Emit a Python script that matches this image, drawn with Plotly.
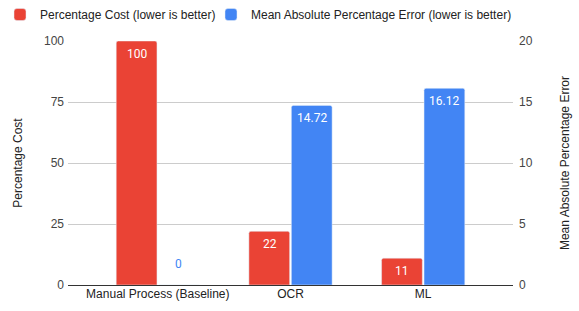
import plotly.graph_objects as go

categories = ["Manual Process (Baseline)", "OCR", "ML"]
cost = [100, 22, 11]
mape = [0, 14.72, 16.12]
cost_name = "Percentage Cost (lower is better)"
mape_name = "Mean Absolute Percentage Error (lower is better)"

RED = "#EA4335"
BLUE = "#4285F4"
FONT = "Liberation Sans, Arial, sans-serif"
LABEL_FONT = "Roboto"
W, H = 579, 311

fig = go.Figure()
fig.add_trace(go.Bar(x=categories, y=cost, name=cost_name, marker_color=RED,
                     offsetgroup="a", yaxis="y", hoverinfo="skip", legend="legend"))
fig.add_trace(go.Bar(x=categories, y=mape, name=mape_name, marker_color=BLUE,
                     offsetgroup="b", yaxis="y2", hoverinfo="skip", legend="legend2"))

def fmt(v):
    return f"{v:g}"

ann = []
for i, v in enumerate(cost):
    ann.append(dict(x=categories[i], y=v, xref="x", yref="y", text=fmt(v),
                    showarrow=False, xshift=-21, yshift=-4 if v > 0 else 12,
                    yanchor="top" if v > 0 else "bottom",
                    font=dict(family=LABEL_FONT, size=12, color="white" if v > 0 else RED)))
for i, v in enumerate(mape):
    ann.append(dict(x=categories[i], y=v, xref="x", yref="y2", text=fmt(v),
                    showarrow=False, xshift=21, yshift=-4 if v > 0 else 12,
                    yanchor="top" if v > 0 else "bottom",
                    font=dict(family=LABEL_FONT, size=12, color="white" if v > 0 else BLUE)))

legend_common = dict(orientation="h", xref="container", yref="container",
                     y=1, xanchor="left", yanchor="top",
                     font=dict(family=FONT, size=12, color="#222"),
                     itemwidth=30, borderwidth=0, bgcolor="rgba(0,0,0,0)")

fig.update_layout(
    width=W, height=H,
    margin=dict(l=68, r=66, t=41, b=26, autoexpand=False),
    paper_bgcolor="white", plot_bgcolor="white",
    font=dict(family=FONT, size=12, color="#444"),
    barmode="group", bargap=0.36, bargroupgap=0.04,
    barcornerradius=2,
    showlegend=True,
    legend=dict(legend_common, x=-5 / W),
    legend2=dict(legend_common, x=211 / W),
    xaxis=dict(range=[-0.677, 2.677], showgrid=False, ticks="",
               tickfont=dict(family=FONT, size=12, color="#222"), fixedrange=True),
    yaxis=dict(range=[0, 100], tickvals=[0, 25, 50, 75, 100], gridcolor="#cccccc",
               zeroline=True, zerolinecolor="#333333", zerolinewidth=1, fixedrange=True,
               title=dict(text="Percentage Cost", font=dict(family=FONT, size=12, color="#222"), standoff=18),
               tickfont=dict(family=FONT, size=12, color="#444"), ticks="", ticklabelstandoff=3),
    yaxis2=dict(range=[0, 20], tickvals=[0, 5, 10, 15, 20], overlaying="y", side="right",
                showgrid=False, zeroline=False, fixedrange=True,
                title=dict(text="Mean Absolute Percentage Error", font=dict(family=FONT, size=12, color="#222"), standoff=28),
                tickfont=dict(family=FONT, size=12, color="#444"), ticks="", ticklabelstandoff=5),
    annotations=ann,
)

fig.write_html("out.html", config={"displayModeBar": False},
               post_script="document.body.style.margin='0';")
